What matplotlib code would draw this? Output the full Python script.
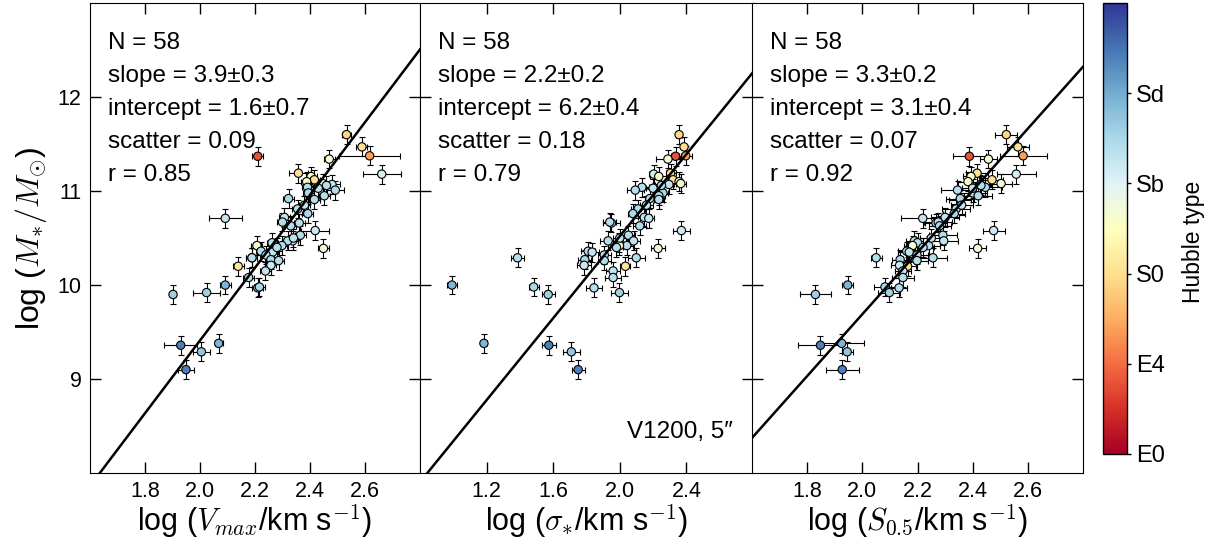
import numpy as np
import matplotlib
matplotlib.use("Agg")
import matplotlib.pyplot as plt
from matplotlib.colors import Normalize
from matplotlib.cm import ScalarMappable

# stellar mass (same for every panel)
log_mstar = [11.60, 11.47, 11.375, 11.37, 11.34, 11.18, 11.19, 11.155, 11.12, 11.10,
             11.08, 11.07, 11.04, 11.01, 10.98, 10.95, 10.91, 10.92, 10.81, 10.76,
             10.72, 10.71, 10.66, 10.67, 10.58, 10.53, 10.47, 10.47, 10.42, 10.39,
             10.45, 10.42, 10.36, 10.35, 10.29, 10.32, 10.27, 10.26, 10.21, 10.20,
             10.15, 10.08, 9.97, 9.98, 9.92, 9.90, 10.00, 10.29, 9.36, 9.38,
             9.29, 9.10, 11.03, 11.06, 10.50, 10.40, 10.63, 10.85]

# Hubble type code: 0=E0, 1=E4, 2=S0, 3=Sb, 4=Sd
hubble_type = [1.9, 2.0, 1.4, 0.8, 2.7, 3.1, 2.0, 2.6, 2.0, 2.6,
               2.7, 3.3, 3.4, 3.4, 3.5, 3.4, 3.4, 3.5, 3.4, 3.5,
               3.3, 3.3, 3.4, 3.4, 3.2, 3.4, 3.3, 3.4, 3.4, 2.7,
               3.4, 2.6, 3.4, 3.3, 3.4, 3.3, 3.5, 3.4, 3.2, 2.1,
               3.3, 3.4, 3.4, 3.5, 3.6, 3.6, 3.9, 3.4, 4.4, 3.9,
               3.7, 4.4, 3.3, 3.4, 3.3, 3.4, 3.4, 3.3]

log_vmax = [2.533, 2.589, 2.617, 2.210, 2.470, 2.661, 2.358, 2.404, 2.416, 2.388,
            2.446, 2.480, 2.391, 2.492, 2.394, 2.452, 2.416, 2.322, 2.355, 2.392,
            2.307, 2.092, 2.361, 2.300, 2.419, 2.365, 2.337, 2.319, 2.298, 2.449,
            2.262, 2.207, 2.222, 2.264, 2.189, 2.240, 2.258, 2.286, 2.258, 2.139,
            2.238, 2.177, 2.210, 2.216, 2.024, 1.902, 2.092, 2.189, 1.930, 2.068,
            2.005, 1.949, 2.430, 2.460, 2.340, 2.280, 2.330, 2.380]
err_vmax = [0.015, 0.02, 0.11, 0.02, 0.02, 0.07, 0.035, 0.02, 0.02, 0.02,
            0.02, 0.03, 0.02, 0.03, 0.02, 0.02, 0.02, 0.02, 0.02, 0.02,
            0.02, 0.06, 0.02, 0.02, 0.05, 0.02, 0.02, 0.02, 0.02, 0.02,
            0.02, 0.02, 0.02, 0.02, 0.02, 0.02, 0.02, 0.02, 0.02, 0.02,
            0.02, 0.02, 0.02, 0.02, 0.05, 0.01, 0.02, 0.02, 0.06, 0.015,
            0.03, 0.03, 0.02, 0.02, 0.02, 0.02, 0.02, 0.02]

log_sigma = [2.356, 2.386, 2.396, 2.335, 2.289, 2.204, 2.305, 2.234, 2.320, 2.356,
             2.366, 2.295, 2.133, 2.093, 2.259, 2.234, 2.234, 2.180, 2.110, 2.079,
             2.147, 2.174, 1.950, 1.940, 2.370, 2.052, 2.083, 1.930, 2.042, 2.230,
             1.998, 1.998, 1.810, 1.834, 2.099, 1.907, 1.790, 1.907, 1.786, 2.034,
             1.960, 1.960, 1.845, 1.483, 1.998, 1.570, 0.992, 1.386, 1.574, 1.184,
             1.709, 1.750, 2.200, 2.250, 2.000, 1.980, 2.120, 2.160]
err_sigma = [0.02, 0.02, 0.04, 0.03, 0.07, 0.03, 0.03, 0.05, 0.03, 0.02,
             0.03, 0.03, 0.04, 0.05, 0.03, 0.04, 0.03, 0.03, 0.04, 0.03,
             0.04, 0.03, 0.05, 0.04, 0.05, 0.04, 0.04, 0.05, 0.04, 0.04,
             0.04, 0.04, 0.04, 0.04, 0.05, 0.04, 0.04, 0.04, 0.04, 0.03,
             0.04, 0.05, 0.05, 0.03, 0.05, 0.04, 0.03, 0.04, 0.04, 0.02,
             0.05, 0.04, 0.04, 0.04, 0.04, 0.04, 0.04, 0.04]

log_s05 = [2.522, 2.564, 2.583, 2.388, 2.457, 2.558, 2.416, 2.394, 2.470, 2.383,
           2.503, 2.428, 2.446, 2.345, 2.401, 2.420, 2.355, 2.355, 2.340, 2.333,
           2.300, 2.219, 2.267, 2.275, 2.476, 2.292, 2.295, 2.189, 2.240, 2.418,
           2.200, 2.182, 2.161, 2.170, 2.256, 2.198, 2.137, 2.198, 2.135, 2.164,
           2.147, 2.147, 2.133, 2.082, 2.098, 1.830, 1.947, 2.050, 1.848, 1.925,
           1.945, 1.927, 2.400, 2.430, 2.250, 2.220, 2.280, 2.360]
err_s05 = [0.04, 0.04, 0.085, 0.06, 0.03, 0.07, 0.04, 0.03, 0.04, 0.04,
           0.04, 0.04, 0.06, 0.06, 0.05, 0.05, 0.04, 0.05, 0.05, 0.04,
           0.05, 0.08, 0.04, 0.05, 0.04, 0.05, 0.05, 0.03, 0.04, 0.03,
           0.04, 0.03, 0.03, 0.04, 0.05, 0.04, 0.03, 0.04, 0.03, 0.03,
           0.03, 0.04, 0.03, 0.04, 0.04, 0.055, 0.02, 0.02, 0.08, 0.08,
           0.02, 0.06, 0.04, 0.04, 0.04, 0.04, 0.04, 0.04]

err_mstar = 0.1

# fit results per panel
fit_slope = [3.87, 2.18, 3.29]
fit_intercept = [1.67, 6.16, 3.11]
stats_text = [
    ["N = 58", "slope = 3.9\u00b10.3", "intercept = 1.6\u00b10.7", "scatter = 0.09", "r = 0.85"],
    ["N = 58", "slope = 2.2\u00b10.2", "intercept = 6.2\u00b10.4", "scatter = 0.18", "r = 0.79"],
    ["N = 58", "slope = 3.3\u00b10.2", "intercept = 3.1\u00b10.4", "scatter = 0.07", "r = 0.92"],
]
x_labels = [r"log ($V_{max}$/km s$^{-1}$)", r"log ($\sigma_{*}$/km s$^{-1}$)",
            r"log ($S_{0.5}$/km s$^{-1}$)"]
x_limits = [(1.6, 2.8), (0.8, 2.8), (1.6, 2.8)]
x_ticks = [[1.8, 2.0, 2.2, 2.4, 2.6], [1.2, 1.6, 2.0, 2.4], [1.8, 2.0, 2.2, 2.4, 2.6]]
type_ticks = [0, 1, 2, 3, 4]
type_labels = ["E0", "E4", "S0", "Sb", "Sd"]

plt.rcParams["font.family"] = ["Liberation Sans", "DejaVu Sans"]
plt.rcParams["mathtext.fontset"] = "cm"

cmap = plt.get_cmap("RdYlBu")
norm = Normalize(vmin=0, vmax=5)


def draw_panel(ax, xs, xerr, k):
    ax.errorbar(xs, log_mstar, xerr=xerr, yerr=err_mstar, fmt="none",
                ecolor="black", elinewidth=0.8, capsize=2.5, capthick=0.8, zorder=2)
    ax.scatter(xs, log_mstar, c=hubble_type, cmap=cmap, norm=norm, s=36,
               edgecolors="black", linewidths=0.8, zorder=3)
    # fitted relation
    xl = np.array(x_limits[k])
    ax.plot(xl, fit_slope[k] * xl + fit_intercept[k], color="black", lw=1.8, zorder=4)

    ax.set_xlim(*x_limits[k])
    ax.set_ylim(8, 13)
    ax.set_xticks(x_ticks[k])
    ax.set_xticklabels([f"{t:.1f}" for t in x_ticks[k]], fontsize=15.5)
    ax.set_yticks([9, 10, 11, 12])
    ax.tick_params(direction="in", length=8, width=1, top=True, right=True, pad=6)
    ax.set_xlabel(x_labels[k], fontsize=22, labelpad=0)

    for i, line in enumerate(stats_text[k]):
        ax.text(0.055, 0.915 - i * 0.0702, line, transform=ax.transAxes,
                fontsize=17.5, va="center", ha="left")


def main():
    fig = plt.figure(figsize=(12.11, 5.45), dpi=100)
    h = 0.8624
    b = 0.132
    axes = [fig.add_axes([0.0743, b, 0.2725, h]),
            fig.add_axes([0.3468, b, 0.2750, h]),
            fig.add_axes([0.6210, b, 0.2733, h])]

    panels = [(log_vmax, err_vmax), (log_sigma, err_sigma), (log_s05, err_s05)]
    for k, (ax, (xs, xe)) in enumerate(zip(axes, panels)):
        draw_panel(ax, xs, xe, k)

    axes[0].set_yticklabels(["9", "10", "11", "12"], fontsize=15.5)
    axes[1].set_yticklabels([])
    axes[2].set_yticklabels([])
    axes[0].set_ylabel(r"log ($M_{*}/M_{\odot}$)", fontsize=23, labelpad=6)

    axes[1].text(0.94, 0.087, "V1200, 5\u2033", transform=axes[1].transAxes,
                 fontsize=17.5, ha="right", va="center")

    # colorbar for Hubble type
    cax = fig.add_axes([0.9108, 0.167, 0.0198, 0.8275])
    sm = ScalarMappable(norm=norm, cmap=cmap)
    cb = fig.colorbar(sm, cax=cax, ticks=type_ticks)
    cb.ax.set_yticklabels(type_labels, fontsize=17)
    cb.ax.tick_params(length=3, width=1)
    cb.outline.set_linewidth(1)
    cb.set_label("Hubble type", fontsize=16.5)
    cb.ax.yaxis.set_label_coords(3.3, 0.47)

    fig.savefig("out.png", dpi=100)


if __name__ == "__main__":
    main()
